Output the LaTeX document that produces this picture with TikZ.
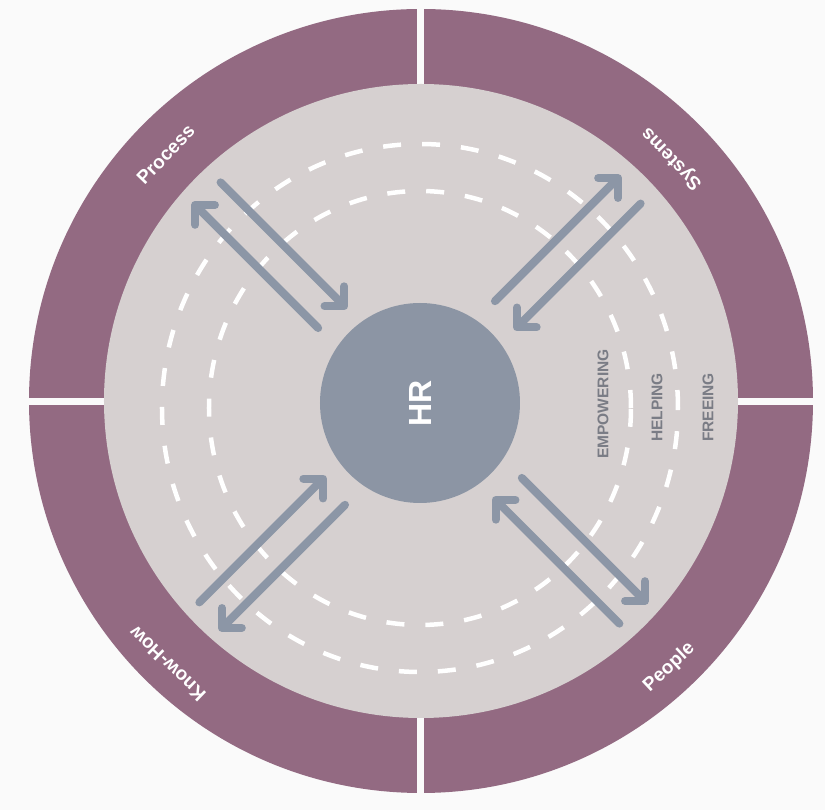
\documentclass[tikz,border=0pt]{standalone}
\usepackage{fontspec}
\setmainfont{Liberation Sans}
\usetikzlibrary{arrows.meta}

\definecolor{pagebg}{HTML}{FAFAFA}
\definecolor{ringpurple}{HTML}{936A82}
\definecolor{discgrey}{HTML}{D6D0D0}
\definecolor{hrblue}{HTML}{8C95A4}
\definecolor{flowblue}{HTML}{8C96A6}
\definecolor{wordgrey}{HTML}{7A7C85}

\tikzset{
	flow/.style={flowblue, line width=8pt, line cap=round,
		-{Straight Barb[length=14pt, width=28pt, line cap=round, line join=round]}},
	track/.style={white, line width=4.5pt, dash pattern=on 18pt off 21pt},
	ringlabel/.style={text=white, font=\bfseries\fontsize{19}{22}\selectfont},
	levellabel/.style={text=wordgrey, font=\bfseries\fontsize{15.5}{18}\selectfont, rotate=90},
}

\begin{document}
\begin{tikzpicture}[x=1pt, y=1pt]
			\pgfmathsetmacro{\outerr}{392}
			\pgfmathsetmacro{\innerr}{317}
			\pgfmathsetmacro{\labelr}{355}
			\fill[pagebg] (-421,-409) rectangle (404,401);
			\useasboundingbox (-421,-409) rectangle (404,401);
			% purple ring, cut into four quarters
			\fill[ringpurple] (0,0) circle (\outerr);
			\fill[pagebg] (-4.25,-\outerr-2) rectangle (3.25,\outerr+2);
			\fill[pagebg] (-\outerr-2,-4) rectangle (\outerr+2,3);
			\fill[discgrey] (0,0) circle (\innerr);
			% dashed tracks
			\draw[track] (-1,-7) ellipse (258 and 264);
			\draw[track] (-1,-7) ellipse (211 and 217);
			% centre
			\node[circle, fill=hrblue, minimum size=200pt, inner sep=0pt, text=white,
				font=\bfseries\fontsize{32}{36}\selectfont, rotate=90] (hr) at (-1,-2) {HR};
			% arrow pairs
			\foreach \a in {45,135,225,315}{
				\begin{scope}[shift={(hr.center)}, rotate=\a]
					\coordinate (out\a) at (125,19);
					\coordinate (outtip\a) at (303,19);
					\coordinate (in\a) at (297,-15);
					\coordinate (intip\a) at (118,-15);
				\end{scope}
				\draw[flow] (out\a) -- (outtip\a);
				\draw[flow] (in\a) -- (intip\a);
			}
			% levels
			\node[levellabel] (empowering) at (182,-3) {EMPOWERING};
			\node[levellabel] (helping) at (236,-6.5) {HELPING};
			\node[levellabel] (freeing) at (287,-6.5) {FREEING};
			% ring labels
			\node[ringlabel, rotate=46] (process) at (136:\labelr) {Process};
			\node[ringlabel, rotate=134] (systems) at (44:\labelr-6) {Systems};
			\node[ringlabel, rotate=43] (people) at (-47:\labelr+9) {People};
			\node[ringlabel, rotate=136] (knowhow) at (-134:\labelr+10) {Know-How};
\end{tikzpicture}
\end{document}
